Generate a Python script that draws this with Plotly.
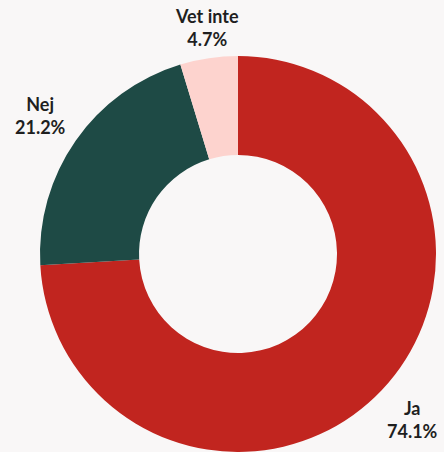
import math
import plotly.graph_objects as go

labels = ["Ja", "Nej", "Vet inte"]
values = [74.1, 21.2, 4.7]
colors = ["#c1251f", "#1e4a45", "#fdd3ce"]

# figure geometry (pixels)
W, H = 444, 452
M = dict(l=40, r=8, t=56, b=0)
plot_w = W - M["l"] - M["r"]
plot_h = H - M["t"] - M["b"]
radius = min(plot_w, plot_h) / 2
cx = M["l"] + plot_w / 2
cy = M["t"] + plot_h / 2
label_gap = 12  # distance between ring edge and label box

# compensate for the annotation box padding around the glyphs
x_nudge = {"left": -6, "center": 0, "right": 2}
y_nudge = {"top": 3, "middle": 0, "bottom": -6}  # plotly yshift is upward

fig = go.Figure(
    go.Pie(
        labels=labels,
        values=values,
        hole=0.5,
        sort=False,
        direction="clockwise",
        rotation=0,
        marker=dict(colors=colors, line=dict(width=0)),
        textinfo="none",
        showlegend=False,
        hoverinfo="label+percent",
    )
)

# outside labels placed at the middle angle of each slice
total = sum(values)
start = 0.0
for lab, val in zip(labels, values):
    mid = (start + val / 2) / total * 2 * math.pi  # clockwise from 12 o'clock
    start += val
    sx, sy = math.sin(mid), -math.cos(mid)  # screen direction (y down)
    px = cx + (radius + label_gap) * sx
    py = cy + (radius + label_gap) * sy
    xanchor = "center" if abs(sx) < 0.35 else ("left" if sx > 0 else "right")
    yanchor = "middle" if abs(sy) < 0.35 else ("top" if sy > 0 else "bottom")
    fig.add_annotation(
        x=(px - M["l"]) / plot_w,
        y=1 - (py - M["t"]) / plot_h,
        xref="paper",
        yref="paper",
        xanchor=xanchor,
        yanchor=yanchor,
        xshift=x_nudge[xanchor],
        yshift=y_nudge[yanchor],
        align="center",
        showarrow=False,
        text=f"{lab}<br>{val / total * 100:.1f}%",
        font=dict(family="Lato", size=18, color="#1f1f1f", weight="bold"),
    )

fig.update_layout(
    width=W,
    height=H,
    margin=M,
    paper_bgcolor="#f9f7f7",
    plot_bgcolor="#f9f7f7",
)

fig.write_html("out.html")
